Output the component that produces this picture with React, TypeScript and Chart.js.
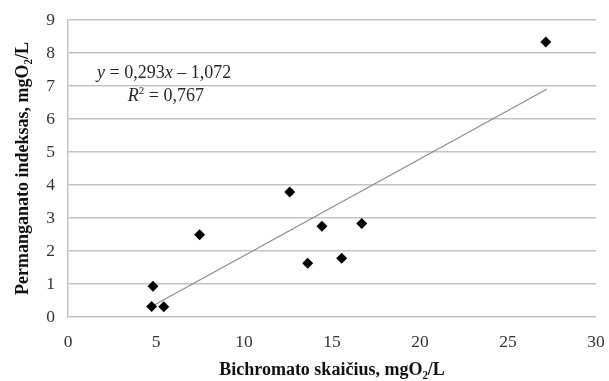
import React, { useEffect, useRef } from "react";
import { Chart, registerables } from "chart.js";

Chart.register(...registerables);

const bichromato = [27.15, 12.6, 7.48, 4.83, 4.75, 5.44, 13.62, 14.43, 15.55, 16.69];
const permanganato = [8.33, 3.79, 2.49, 0.93, 0.32, 0.31, 1.63, 2.75, 1.78, 2.83];
const trendX = [4.75, 27.2];
const trendY = [0.32, 6.9];
const equationLine1 = ["y", " = 0,293", "x", " – 1,072"];
const equationLine2 = ["R", "2", " = 0,767"];
const xTitle = "Bichromato skaičius, mgO₂/L";
const yTitle = "Permanganato indeksas, mgO₂/L";

const FONT = "'Liberation Serif', 'Times New Roman', serif";

const equationPlugin = {
  id: "equation",
  afterDatasetsDraw(chart: any) {
    const { ctx, scales } = chart;
    const x0 = scales.x.getPixelForValue(1.65);
    const y1 = scales.y.getPixelForValue(7.4);
    const y2 = scales.y.getPixelForValue(6.7);
    ctx.save();
    ctx.fillStyle = "#262626";
    ctx.textBaseline = "middle";
    ctx.textAlign = "left";
    let x = x0;
    equationLine1.forEach((part, i) => {
      ctx.font = (i % 2 === 0 ? "italic " : "") + "18px " + FONT;
      ctx.fillText(part, x, y1);
      x += ctx.measureText(part).width;
    });
    x = scales.x.getPixelForValue(3.4);
    ctx.font = "italic 18px " + FONT;
    ctx.fillText(equationLine2[0], x, y2);
    x += ctx.measureText(equationLine2[0]).width;
    ctx.font = "11px " + FONT;
    ctx.fillText(equationLine2[1], x, y2 - 5);
    x += ctx.measureText(equationLine2[1]).width;
    ctx.font = "18px " + FONT;
    ctx.fillText(equationLine2[2], x, y2);
    ctx.restore();
  },
};

const zeroPadding = (s: any) => {
  s.paddingLeft = 0;
  s.paddingRight = 0;
  s.paddingTop = 0;
  s.paddingBottom = 0;
};

export default function App() {
  const ref = useRef<HTMLCanvasElement>(null);
  useEffect(() => {
    const chart = new Chart(ref.current!, {
      type: "scatter",
      data: {
        datasets: [
          {
            data: bichromato.map((v, i) => ({ x: v, y: permanganato[i] })),
            pointStyle: "rectRot",
            pointRadius: 5.5,
            backgroundColor: "#000000",
            borderColor: "#000000",
            borderWidth: 0,
          },
          {
            type: "line",
            data: trendX.map((v, i) => ({ x: v, y: trendY[i] })),
            borderColor: "#8c8c8c",
            borderWidth: 1.2,
            pointRadius: 0,
            showLine: true,
            fill: false,
          } as any,
        ],
      },
      options: {
        animation: false,
        responsive: false,
        maintainAspectRatio: false,
        layout: { padding: { left: 0, right: 13, top: 20, bottom: 0 } },
        plugins: { legend: { display: false }, tooltip: { enabled: false } },
        scales: {
          x: {
            type: "linear",
            min: 0,
            max: 30,
            ticks: { stepSize: 5, color: "#333333", font: { family: FONT, size: 17.5 }, padding: 15 },
            grid: { display: false, drawTicks: false },
            border: { display: false },
            title: {
              display: true,
              text: xTitle,
              color: "#111111",
              font: { family: FONT, size: 18, weight: "bold" },
              padding: { top: 0, bottom: 0 },
            },
            afterFit: (s: any) => {
              s.height = 64;
              zeroPadding(s);
            },
          },
          y: {
            type: "linear",
            min: 0,
            max: 9,
            ticks: { stepSize: 1, color: "#333333", font: { family: FONT, size: 17.5 }, padding: 13 },
            grid: { color: "#c4c4c4", lineWidth: 1.5, drawTicks: false },
            border: { display: true, color: "#c4c4c4", width: 1.5 },
            title: {
              display: true,
              text: yTitle,
              color: "#111111",
              font: { family: FONT, size: 18, weight: "bold" },
              padding: { top: 13, bottom: 0 },
            },
            afterFit: (s: any) => {
              s.width = 68;
              zeroPadding(s);
            },
          },
        },
      },
      plugins: [equationPlugin],
    });
    return () => chart.destroy();
  }, []);
  return (
    <div style={{ position: "absolute", left: 0, top: 0, width: 609, height: 381, background: "#fff" }}>
      <canvas ref={ref} width={609} height={381} style={{ width: 609, height: 381 }} />
    </div>
  );
}
